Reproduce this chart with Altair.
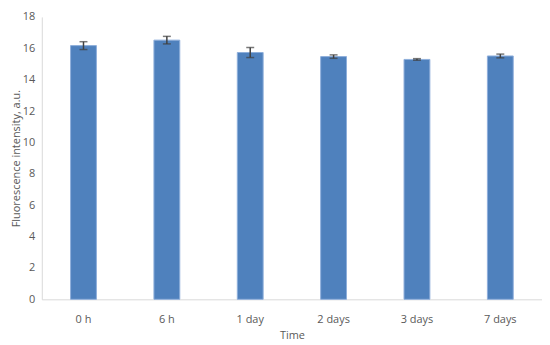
import altair as alt
import pandas as pd

categories = ["0 h", "6 h", "1 day", "2 days", "3 days", "7 days"]
values = [16.17, 16.52, 15.73, 15.47, 15.29, 15.51]
errors = [0.25, 0.24, 0.32, 0.11, 0.05, 0.12]
y_ticks = [0, 2, 4, 6, 8, 10, 12, 14, 16, 18]

df = pd.DataFrame({"Time": categories, "value": values, "err": errors})
df["lo"] = df["value"] - df["err"]
df["hi"] = df["value"] + df["err"]

FONT = "Open Sans"
x_axis = alt.Axis(title="Time", labelAngle=0, ticks=False, labelPadding=14,
                  domainColor="#d9d9d9", labelColor="#595959", titleColor="#595959",
                  labelFontSize=11, titleFontSize=11, labelFont=FONT, titleFont=FONT,
                  titleFontWeight="normal", titlePadding=5)
x_scale = alt.Scale(paddingInner=0.69, paddingOuter=0.345)
y_axis = alt.Axis(title="Fluorescence intensity, a.u.", values=y_ticks,
                  grid=False, ticks=False, domainColor="#d9d9d9", labelOverlap=False,
                  labelColor="#595959", titleColor="#595959", labelFontSize=11,
                  titleFontSize=11, labelFont=FONT, titleFont=FONT,
                  titleFontWeight="normal", labelPadding=7, titlePadding=1)
y_scale = alt.Scale(domain=[0, 18], nice=False)

def X():
    return alt.X("Time:N", sort=categories, scale=x_scale, axis=x_axis)

bars = alt.Chart(df).mark_bar(color="#4F81BD", stroke="#8eaedb", strokeWidth=1).encode(
    x=X(), y=alt.Y("value:Q", scale=y_scale, axis=y_axis))

rule = alt.Chart(df).mark_rule(color="#404040", strokeWidth=1.5).encode(
    x=X(), y=alt.Y("lo:Q", scale=y_scale, axis=y_axis), y2="hi:Q")
cap_lo = alt.Chart(df).mark_tick(color="#404040", size=8, thickness=1.5, orient="horizontal").encode(
    x=X(), y=alt.Y("lo:Q", scale=y_scale, axis=y_axis))
cap_hi = alt.Chart(df).mark_tick(color="#404040", size=8, thickness=1.5, orient="horizontal").encode(
    x=X(), y=alt.Y("hi:Q", scale=y_scale, axis=y_axis))

chart = alt.layer(bars, rule, cap_lo, cap_hi).properties(
    width=503, height=284,
    background="white",
    autosize=alt.AutoSizeParams(type="none"),
    padding={"left": 34, "top": 8, "right": 0, "bottom": 50},
).configure_view(strokeWidth=0, stroke=None).configure_axisY(labelOverlap=False)

chart.save("out.html", embed_options={"renderer": "svg", "actions": False})
